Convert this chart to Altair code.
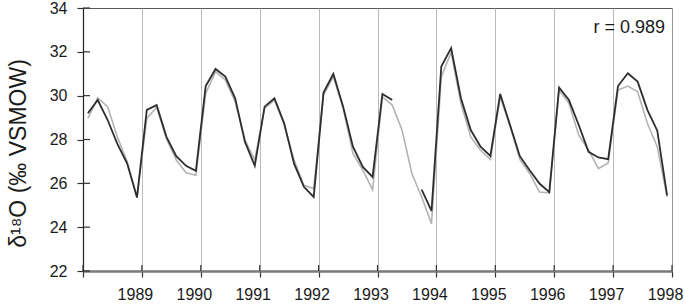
import altair as alt
import pandas as pd

years = [1988, 1989, 1990, 1991, 1992, 1993, 1994, 1995, 1996, 1997]
# six bimonthly values per year (black = first series, gray = second series)
black = [
    29.2, 29.8, 28.9, 27.8, 26.9, 25.35,
    29.35, 29.57, 28.12, 27.24, 26.8, 26.57,
    30.44, 31.22, 30.87, 29.88, 27.89, 26.8,
    29.5, 29.88, 28.73, 26.9, 25.84, 25.38,
    30.14, 30.99, 29.5, 27.67, 26.75, 26.29,
    30.08, 29.8, None, None, 25.71, 24.74,
    31.33, 32.17, 29.88, 28.43, 27.67, 27.25,
    30.08, 28.66, 27.24, 26.6, 25.99, 25.6,
    30.37, 29.8, 28.66, 27.44, 27.18, 27.1,
    30.44, 31.02, 30.64, 29.34, 28.4, 25.45,
]
gray = [
    28.96, 29.9, 29.5, 28.12, 26.98, 25.38,
    28.96, 29.47, 28.05, 27.06, 26.48, 26.37,
    30.1, 31.1, 30.72, 29.73, 27.97, 27.06,
    29.42, 29.8, 28.66, 27.06, 25.91, 25.76,
    30.03, 30.87, 29.42, 27.36, 26.6, 25.71,
    29.95, 29.57, 28.43, 26.45, 25.38, 24.16,
    30.87, 31.97, 29.65, 28.12, 27.51, 27.09,
    29.95, 28.61, 27.09, 26.45, 25.6, 25.56,
    30.26, 29.65, 28.2, 27.51, 26.67, 26.93,
    30.26, 30.44, 30.18, 28.73, 27.67, 25.38,
]
x_ticks = [1988, 1989, 1990, 1991, 1992, 1993, 1994, 1995, 1996, 1997, 1998]
y_ticks = [22, 24, 26, 28, 30, 32, 34]
y_title = "δ¹⁸O (‰ VSMOW)"
r_label = ["r = 0.989"]

# build tables
t = [y + (i + 0.5) / 6 for y in years for i in range(6)]
gdf = pd.DataFrame({"t": t, "v": gray})
seg, s = [], 0
for v in black:
    if v is None:
        s += 1
    seg.append(s)
bdf = pd.DataFrame({"t": t, "v": black, "seg": seg}).dropna()

FONT = "Liberation Sans"
W, H = 589, 263

xscale = alt.Scale(domain=[1988, 1998], nice=False, zero=False)
yscale = alt.Scale(domain=[22, 34], nice=False, zero=False)

xaxis = alt.Axis(
    values=x_ticks, format="d", title=None, grid=True, gridColor="#a8a8a8",
    gridWidth=0.8, domainColor="#7a7a7a", domainWidth=2.5, tickColor="#333333",
    tickWidth=1.2, tickSize=6, labelFont=FONT, labelFontSize=16,
    labelColor="#1a1a1a", labelPadding=9, labelOffset=-7,
    labelExpr="datum.value == 1988 ? '' : datum.label", labelFlush=False,
    labelOverlap=False,
)
yaxis = alt.Axis(
    values=y_ticks, title=y_title, grid=False, domainColor="#222222",
    domainWidth=1.2, tickColor="#333333", tickWidth=1.2, tickSize=6,
    labelFont=FONT, labelFontSize=16, labelColor="#1a1a1a", labelPadding=10,
    titleFont=FONT, titleFontSize=23, titleFontWeight="normal",
    titleColor="#1a1a1a", titleAngle=-90, titleX=-58, titleY=145,
    titleAlign="center", titleBaseline="alphabetic",
)

gray_line = alt.Chart(gdf).mark_line(color="#b3b3b3", strokeWidth=1.6).encode(
    x=alt.X("t:Q", scale=xscale, axis=xaxis),
    y=alt.Y("v:Q", scale=yscale, axis=yaxis),
)
black_line = alt.Chart(bdf).mark_line(color="#2e2e2e", strokeWidth=1.8).encode(
    x=alt.X("t:Q", scale=xscale, axis=xaxis),
    y=alt.Y("v:Q", scale=yscale, axis=yaxis),
    detail="seg:N",
)

ytick_in = alt.Chart(pd.DataFrame({"v": y_ticks})).mark_rule(
    color="#333333", strokeWidth=1.2
).encode(
    y=alt.Y("v:Q", scale=yscale, axis=yaxis),
    x=alt.value(0), x2=alt.value(7),
)
xtick_in = alt.Chart(pd.DataFrame({"t": x_ticks})).mark_rule(
    color="#333333", strokeWidth=1.2
).encode(
    x=alt.X("t:Q", scale=xscale, axis=xaxis),
    y=alt.value(H - 6), y2=alt.value(H),
)
r_text = alt.Chart(pd.DataFrame({"lab": r_label})).mark_text(
    font=FONT, fontSize=18, color="#1a1a1a", align="right", baseline="alphabetic"
).encode(
    text="lab:N", x=alt.value(582), y=alt.value(25),
)

chart = alt.layer(gray_line, black_line, ytick_in, xtick_in, r_text).properties(
    width=W, height=H,
    padding={"left": 83, "top": 8, "right": 13, "bottom": 33},
    autosize=alt.AutoSizeParams(type="none"),
).configure_view(stroke="#5a5a5a", strokeWidth=1)

chart.save("out.html", embed_options={"renderer": "svg", "actions": False})
